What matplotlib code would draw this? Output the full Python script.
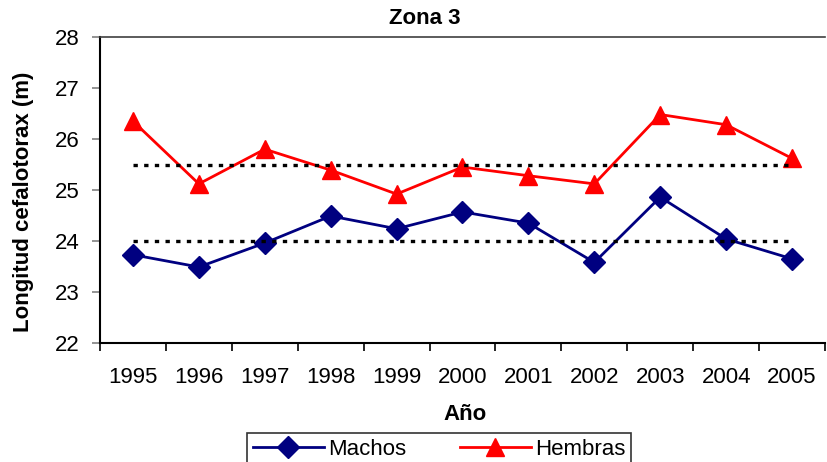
import numpy as np
import matplotlib.pyplot as plt

# --- DATOS ---
YEARS = ['1995', '1996', '1997', '1998', '1999', '2000', '2001', '2002', '2003', '2004', '2005']
MACHOS = [23.73, 23.49, 23.96, 24.49, 24.24, 24.57, 24.35, 23.58, 24.86, 24.04, 23.65]
HEMBRAS = [26.35, 25.12, 25.80, 25.39, 24.92, 25.45, 25.28, 25.12, 26.48, 26.28, 25.62]
MEDIA_MACHOS = 24.0
MEDIA_HEMBRAS = 25.5
# -------------

plt.rcParams['font.family'] = ['Liberation Sans', 'DejaVu Sans']

fig = plt.figure(figsize=(8.27, 4.62), dpi=100)
ax = fig.add_axes([100 / 827, 1 - 343 / 462, 725 / 827, 306 / 462])

x = np.arange(len(YEARS))

l1, = ax.plot(x, MACHOS, color='#000080', lw=2, marker='D', markersize=11, label='Machos')
l2, = ax.plot(x, HEMBRAS, color='#ff0000', lw=2, marker='^', markersize=13, label='Hembras')

# lineas de promedio
ax.plot([x[0], x[-1]], [MEDIA_HEMBRAS] * 2, color='black', lw=2.4, linestyle=(0, (1.3, 1.9)))
ax.plot([x[0], x[-1]], [MEDIA_MACHOS] * 2, color='black', lw=2.4, linestyle=(0, (1.3, 1.9)))

ax.set_xlim(-0.5, len(YEARS) - 0.5)
ax.set_ylim(22, 28)
ax.set_yticks(range(22, 29))

ax.set_xticks(x)
ax.set_xticklabels(YEARS, fontsize=16)
ax.set_xticks(np.arange(-0.5, len(YEARS)), minor=True)
ax.tick_params(axis='x', which='major', length=0, pad=17)
ax.tick_params(axis='x', which='minor', length=6, width=1.2, color='black')
ax.tick_params(axis='y', length=6, width=1.2, color='#808080', labelsize=16, pad=9)

for s in ['left', 'bottom']:
    ax.spines[s].set_color('black')
    ax.spines[s].set_linewidth(1.5)
ax.spines['top'].set_color('#404040')
ax.spines['top'].set_linewidth(1.2)
ax.spines['right'].set_visible(False)

fig.text(425 / 827, 1 - 19 / 462, 'Zona 3', fontsize=16, fontweight='bold', ha='center', va='center')
fig.text(24 / 827, 1 - 202 / 462, 'Longitud cefalotorax (m)', fontsize=16, fontweight='bold',
         rotation=90, ha='center', va='center')
fig.text(465 / 827, 1 - 414 / 462, 'Año', fontsize=16, fontweight='bold', ha='center', va='center')

leg = fig.legend(handles=[l1, l2], loc='upper left', bbox_to_anchor=(247 / 827, 1 - 433 / 462),
                 ncol=2, fontsize=16, frameon=True, fancybox=False,
                 borderaxespad=0, handlelength=3.2, borderpad=0.25, columnspacing=2.4, handletextpad=0.2)
leg.get_frame().set_edgecolor('black')
leg.get_frame().set_linewidth(1.2)

fig.savefig('out.png', dpi=100)
